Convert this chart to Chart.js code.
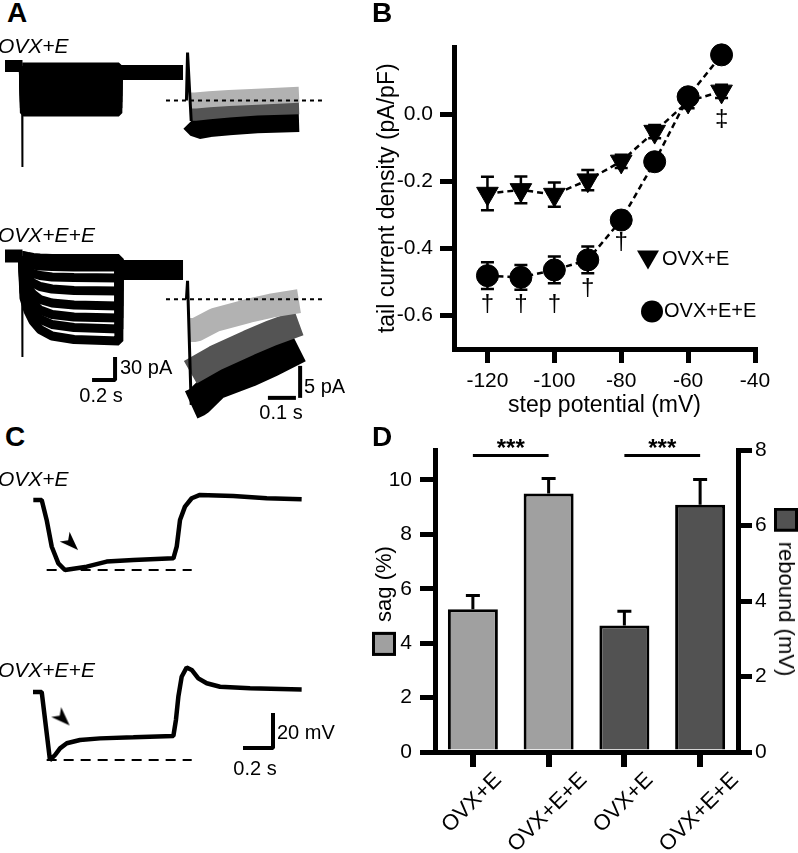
<!DOCTYPE html>
<html>
<head>
<meta charset="utf-8">
<script src="https://cdn.jsdelivr.net/npm/chart.js@4.4.1/dist/chart.umd.min.js"></script>
<style>
  body { margin: 0; width: 798px; height: 853px; position: relative; overflow: hidden; background: #fff;
         font-family: "Liberation Sans", Arial, sans-serif; color: #000; }
  canvas { position: absolute; }
  .t { position: absolute; line-height: 1; white-space: nowrap; }
  .L { font-weight: bold; font-size: 28px; }
  .g { font-style: italic; font-size: 21px; }
  .s { font-size: 20px; }
  .ax { position: absolute; display: flex; align-items: center; gap: 10px; white-space: nowrap;
        font-size: 22px; line-height: 1; transform: translate(-50%, -50%) rotate(-90deg); }
  .ax.r { transform: translate(-50%, -50%) rotate(90deg); }
  .sq { width: 18px; height: 18px; border: 3px solid #000; }
</style>
</head>
<body>
<canvas id="a1" width="190" height="140" style="left:0;top:40px"></canvas>
<canvas id="a2" width="170" height="110" style="left:160px;top:40px"></canvas>
<canvas id="a3" width="190" height="180" style="left:0;top:230px"></canvas>
<canvas id="a4" width="170" height="170" style="left:160px;top:260px"></canvas>
<canvas id="b" width="420" height="400" style="left:360px;top:20px"></canvas>
<canvas id="c1" width="300" height="100" style="left:20px;top:480px"></canvas>
<canvas id="c2" width="300" height="140" style="left:20px;top:660px"></canvas>
<canvas id="d" width="458" height="433" style="left:340px;top:420px"></canvas>

<div class="t L" style="left:7px;top:-1px">A</div>
<div class="t L" style="left:372px;top:-1px">B</div>
<div class="t L" style="left:5px;top:423px">C</div>
<div class="t L" style="left:372px;top:423px">D</div>

<div class="t g" style="left:-2px;top:35px">OVX+E</div>
<div class="t g" style="left:-2px;top:224px">OVX+E+E</div>
<div class="t g" style="left:-2px;top:468px">OVX+E</div>
<div class="t g" style="left:-2px;top:659px">OVX+E+E</div>

<div class="t s" style="left:120px;top:357px">30 pA</div>
<div class="t s" style="left:101px;top:385px;transform:translateX(-50%)">0.2 s</div>
<div class="t s" style="left:304px;top:376px">5 pA</div>
<div class="t s" style="left:281px;top:402px;transform:translateX(-50%)">0.1 s</div>
<div class="t s" style="left:277px;top:722px">20 mV</div>
<div class="t s" style="left:255px;top:758px;transform:translateX(-50%)">0.2 s</div>

<div class="ax" style="left:384px;top:601px"><span class="sq" style="background:#a0a0a0"></span><span>sag (%)</span></div>
<div class="ax r" style="left:786px;top:592px"><span class="sq" style="background:#525252"></span><span>rebound (mV)</span></div>

<script>
const FONT = '"Liberation Sans", Arial, sans-serif';

// ---------- A: current traces, time in s, current in pA ----------
// OVX+E
const holdT = [0, 0.152];
const postT = [0.99, 1.548];
const spikeT = [0.148, 0.150, 0.153];
const spikeI = [0, -131.7, -20];
const stepTopT = [0.150, 0.160, 0.990, 0.992];
const stepTopI = [
  [0, 0, 0, -8.5],
  [0, -7.8, -7.8, -8.5],
  [0, -15.6, -15.6, -8.5],
  [0, -23.5, -23.5, -8.5],
  [0, -31.3, -31.3, -8.5],
  [0, -39.1, -39.1, -8.5],
  [0, -47.0, -47.0, -8.5],
  [0, -54.8, -54.8, -8.5],
  [0, -61.3, -61.3, -8.5]
];
// OVX+E+E
const stepBotT = [0.150, 0.165, 0.20, 0.243, 0.304, 0.409, 0.60, 0.990, 0.992];
const stepBotI = [
  [0, 0, -1.3, -2.6, -3.3, -3.9, -3.9, -3.9, -18.3],
  [0, -7.8, -9.8, -11.7, -13, -13.7, -14.3, -14.3, -18.3],
  [0, -15.6, -19.6, -22.8, -25.4, -27.4, -28, -28.7, -18.3],
  [0, -23.5, -30, -35.2, -39.8, -43, -45, -45.6, -18.3],
  [0, -31.3, -41.7, -49.6, -56.7, -61.3, -63.9, -65.2, -18.3],
  [0, -39.1, -52.2, -61.9, -70.4, -76.3, -79.5, -80.8, -18.3],
  [0, -46.9, -61.3, -73, -82.2, -89.3, -93.2, -95.2, -18.3],
  [0, -54.8, -71.7, -84.8, -95.8, -104.3, -108.9, -110.8, -18.3]
];
const barA_T = [0.757, 0.957, 0.957];
const barA_I = [-161.7, -161.7, -131.7];

// tail currents (s after step, pA)
const tailSpikeT = [-0.002, 0.002, 0.015];
const tailSpikeTop = [0, 7.5, -3.2];
const tailTopLightT = [0.012, 0.03, 0.08, 0.15, 0.25, 0.40];
const tailTopLight = [0, 0, 0.2, 0.4, 0.6, 0.9];
const tailTopDarkT = [0.014, 0.03, 0.08, 0.15, 0.25, 0.40];
const tailTopDark = [-1.9, -1.9, -1.7, -1.4, -1.1, -0.9];
const tailTopBlackT = [0.015, 0.04, 0.08, 0.15, 0.25, 0.40];
const tailTopBlack = [-3.2, -4.3, -4.0, -3.7, -3.4, -3.2];

const tailSpikeBot = [0, 2.9, -16.5];
const tailBotLightT = [0.008, 0.03, 0.10, 0.22, 0.30, 0.40];
const tailBotLight = [-4.8, -4.8, -3.2, -1.8, -1.0, -0.3];
const tailBotDarkT = [0.012, 0.10, 0.22, 0.30, 0.40];
const tailBotDark = [-11.4, -9.2, -6.8, -5.3, -3.7];
const tailBotBlackT = [0.015, 0.04, 0.10, 0.22, 0.30, 0.40];
const tailBotBlack = [-16.5, -16, -13.4, -11.4, -9.8, -7.6];
const zeroT = [-0.075, 0.482];
const barT_T = [0.289, 0.389];
const barT_I = [-15.4, -15.4];
const barT_V = [-15.4, -10.4];

// ---------- B: tail current density vs step potential ----------
const stepMV = [-120, -110, -100, -90, -80, -70, -60, -50];
const tailE = [-0.236, -0.225, -0.239, -0.196, -0.14, -0.051, 0.039, 0.069];
const tailEsem = [0.05, 0.04, 0.036, 0.03, 0.02, 0.02, 0.02, 0.02];
const tailEE = [-0.481, -0.486, -0.464, -0.434, -0.315, -0.141, 0.053, 0.178];
const tailEEsem = [0.04, 0.037, 0.04, 0.04, 0.02, 0.02, 0.02, 0.02];
const xTicksB = [-120, -100, -80, -60, -40];
const yTicksB = [0, -0.2, -0.4, -0.6];
const marksB = [[-120, -0.566, '†'], [-110, -0.566, '†'], [-100, -0.566, '†'],
                [-90, -0.518, '†'], [-80, -0.381, '†'], [-50, -0.015, '‡']];

// ---------- C: voltage traces, time in s, Vm in mV ----------
const vTopT = [0.002, 0.058, 0.091, 0.125, 0.169, 0.213, 0.358, 0.491, 0.669, 0.936, 0.958, 0.98, 1.013, 1.058, 1.113, 1.335, 1.558, 1.791];
const vTop = [-60, -60, -71.4, -86.7, -96.2, -100, -98.1, -95.2, -94.3, -93.3, -86.7, -71.4, -63.8, -59, -57.1, -57.7, -59, -59.6];
const vBotT = [0, 0.058, 0.113, 0.147, 0.18, 0.225, 0.313, 0.447, 0.669, 0.936, 0.953, 0.969, 0.991, 1.024, 1.058, 1.102, 1.158, 1.247, 1.447, 1.791];
const vBot = [-60, -60, -98.9, -96, -92.2, -89.3, -87.4, -86.5, -85.9, -85.1, -75.9, -62.7, -51.3, -46, -47.4, -52.2, -55, -57, -57.9, -58.5];
const sagLineT = [0.091, 1.058];
const sagTop = [-100, -100];
const sagBot = [-98.9, -98.9];
const arrowTop = [0.253, -84.6];
const arrowBot = [0.197, -75.1];
const barC_T = [1.4, 1.6, 1.6];
const barC_V = [-92, -92, -72];

// ---------- D: sag and rebound ----------
const groups = ['OVX+E', 'OVX+E+E', 'OVX+E', 'OVX+E+E'];
const sagMean = [5.25, 9.5, null, null];
const sagSem = [0.5, 0.55, null, null];
const reboundMean = [null, null, 3.35, 6.55];
const reboundSem = [null, null, 0.38, 0.67];
const sagTicks = [0, 2, 4, 6, 8, 10];
const reboundTicks = [0, 2, 4, 6, 8];
const sigPairs = [[0, 1], [2, 3]];
const sigLevel = 10.9;

function line(t, v, color, width, dash) {
  return {
    data: t.map((x, i) => ({ x, y: v[i] })),
    borderColor: color, borderWidth: width, borderDash: dash || [],
    pointRadius: 0, fill: false, clip: false, tension: 0,
    borderJoinStyle: 'bevel', borderCapStyle: 'butt'
  };
}

function traceChart(id, xr, yr, datasets) {
  return new Chart(document.getElementById(id), {
    type: 'line',
    data: { datasets },
    options: {
      animation: false, responsive: false, devicePixelRatio: 1,
      layout: { padding: 0, autoPadding: false },
      events: [],
      plugins: { legend: { display: false }, tooltip: { enabled: false } },
      scales: {
        x: { type: 'linear', display: false, min: xr[0], max: xr[1] },
        y: { type: 'linear', display: false, min: yr[0], max: yr[1] }
      }
    }
  });
}

const LIGHT = '#b2b2b2', DARK = '#545454';

// A top-left
traceChart('a1', [-0.0435, 1.6087], [-148.7, 33.9], [
  line(spikeT, spikeI, '#000', 2),
  ...stepTopI.map(v => line(stepTopT, v, '#000', 7)),
  line(holdT, [0, 0], '#000', 12),
  line(postT, [-8.5, -8.5], '#000', 15)
]);
// A top-right
traceChart('a2', [-0.0964, 0.5107], [-7.73, 9.45], [
  line(zeroT, [0, 0], '#000', 2, [4, 4]),
  line(tailSpikeT, tailSpikeTop, '#000', 3),
  line(tailTopLightT, tailTopLight, LIGHT, 16),
  line(tailTopDarkT, tailTopDark, DARK, 16),
  line(tailTopBlackT, tailTopBlack, '#000', 22)
]);
// A bottom-left
traceChart('a3', [-0.0435, 1.6087], [-200.8, 33.9], [
  line(barA_T, barA_I, '#000', 4),
  line(spikeT, spikeI, '#000', 2),
  ...stepBotI.map((v, i) => line(stepBotT, v, '#000', i === 0 ? 10 : 9)),
  line(holdT, [0, 0], '#000', 13),
  line(postT, [-18.3, -18.3], '#000', 20)
]);
// A bottom-right
traceChart('a4', [-0.0964, 0.5107], [-20.42, 6.14], [
  line(zeroT, [0, 0], '#000', 2, [4, 4]),
  line(barT_T, barT_I, '#000', 4),
  line([0.404, 0.404], barT_V, '#000', 4),
  line(tailSpikeT, tailSpikeBot, '#000', 3),
  line(tailBotLightT, tailBotLight, LIGHT, 24),
  line(tailBotDarkT, tailBotDark, DARK, 26),
  line(tailBotBlackT, tailBotBlack, '#000', 30)
]);

// C arrowhead marker
function arrowHead() {
  const c = document.createElement('canvas');
  c.width = 24; c.height = 24;
  const g = c.getContext('2d');
  g.translate(12, 12); g.rotate(Math.PI / 4);
  g.beginPath(); g.moveTo(10, 0); g.lineTo(-9, -7); g.lineTo(-4, 0); g.lineTo(-9, 7); g.closePath();
  g.fillStyle = '#000'; g.fill();
  return c;
}
const arrowImg = arrowHead();
function arrow(p) {
  return { data: [{ x: p[0], y: p[1] }], showLine: false, pointStyle: arrowImg, pointRadius: 10, clip: false };
}

traceChart('c1', [-0.0867, 1.9133], [-105.714, -48.571], [
  arrow(arrowTop),
  line(vTopT, vTop, '#000', 4.5),
  line(sagLineT, sagTop, '#000', 2, [10, 7])
]);
traceChart('c2', [-0.0867, 1.9133], [-121.714, -41.714], [
  arrow(arrowBot),
  line(vBotT, vBot, '#000', 4.5),
  line(sagLineT, sagBot, '#000', 2, [10, 7]),
  line(barC_T, barC_V, '#000', 4)
]);

// error bars for B and D
const errorBars = {
  id: 'errorBars',
  draw(chart, opts) {
    const ctx = chart.ctx;
    ctx.save();
    ctx.strokeStyle = '#000';
    ctx.lineWidth = opts.width;
    chart.data.datasets.forEach((ds, di) => {
      if (!ds.sem) return;
      const meta = chart.getDatasetMeta(di);
      const ys = meta.yScale;
      meta.data.forEach((el, i) => {
        const raw = ds.data[i];
        const v = raw === null ? null : (typeof raw === 'object' ? raw.y : raw);
        const e = ds.sem[i];
        if (v === null || e === null || e === undefined) return;
        const x = el.x;
        const top = ys.getPixelForValue(v + e);
        const bot = ys.getPixelForValue(opts.upOnly ? v : v - e);
        ctx.beginPath();
        ctx.moveTo(x, bot); ctx.lineTo(x, top);
        ctx.moveTo(x - opts.cap / 2, top); ctx.lineTo(x + opts.cap / 2, top);
        if (!opts.upOnly) { ctx.moveTo(x - opts.cap / 2, bot); ctx.lineTo(x + opts.cap / 2, bot); }
        ctx.stroke();
      });
    });
    ctx.restore();
  },
  beforeDatasetsDraw(chart, args, opts) { if (opts.behind) this.draw(chart, opts); },
  afterDatasetsDraw(chart, args, opts) { if (!opts.behind) this.draw(chart, opts); }
};

// B: daggers and inset legend
const bExtras = {
  id: 'bExtras',
  afterDraw(chart) {
    const { ctx, scales: { x, y }, chartArea } = chart;
    ctx.save();
    ctx.fillStyle = '#000';
    ctx.font = `24px ${FONT}`;
    ctx.textAlign = 'center';
    ctx.textBaseline = 'middle';
    marksB.forEach(m => ctx.fillText(m[2], x.getPixelForValue(m[0]), y.getPixelForValue(m[1])));

    const lx = chartArea.left + 194, ly1 = chartArea.top + 212, ly2 = chartArea.top + 264;
    ctx.beginPath();
    ctx.moveTo(lx - 11, ly1 - 9); ctx.lineTo(lx + 11, ly1 - 9); ctx.lineTo(lx, ly1 + 10); ctx.closePath();
    ctx.fill();
    ctx.beginPath(); ctx.arc(lx + 4, ly2, 11, 0, Math.PI * 2); ctx.fill();
    ctx.font = `20px ${FONT}`;
    ctx.textAlign = 'left';
    ctx.fillText('OVX+E', lx + 14, ly1);
    ctx.fillText('OVX+E+E', lx + 16, ly2);
    ctx.restore();
  }
};

const tickFont = { family: FONT, size: 21 };
const axisGrid = { drawOnChartArea: false, color: '#000', lineWidth: 5 };
const axisBorder = { display: true, color: '#000', width: 5 };

new Chart(document.getElementById('b'), {
  type: 'line',
  data: {
    labels: stepMV,
    datasets: [
      { label: 'OVX+E', data: stepMV.map((v, i) => ({ x: v, y: tailE[i] })), sem: tailEsem,
        borderColor: '#000', borderWidth: 2.5, borderDash: [6, 4], pointStyle: 'triangle', rotation: 180,
        pointRadius: 12.5, pointBackgroundColor: '#000', pointBorderColor: '#000', pointBorderWidth: 1, clip: false },
      { label: 'OVX+E+E', data: stepMV.map((v, i) => ({ x: v, y: tailEE[i] })), sem: tailEEsem,
        borderColor: '#000', borderWidth: 2.5, borderDash: [6, 4], pointStyle: 'circle',
        pointRadius: 11, pointBackgroundColor: '#000', pointBorderColor: '#000', pointBorderWidth: 1, clip: false }
    ]
  },
  options: {
    animation: false, responsive: false, devicePixelRatio: 1, events: [],
    layout: { padding: { top: 27.5, right: 25, left: 0, bottom: 0 }, autoPadding: false },
    plugins: { legend: { display: false }, tooltip: { enabled: false },
               errorBars: { behind: true, cap: 13, width: 2.5, upOnly: false } },
    scales: {
      x: {
        type: 'linear', min: -130, max: -40,
        afterBuildTicks: s => { s.ticks = xTicksB.map(v => ({ value: v })); },
        afterFit: s => { s.height = 71; },
        grid: { ...axisGrid, tickLength: 14 }, border: axisBorder,
        ticks: { font: tickFont, color: '#000', padding: 6, maxRotation: 0 },
        title: { display: true, text: 'step potential (mV)', color: '#000',
                 font: { family: FONT, size: 23 }, padding: { top: 0, bottom: 1 } }
      },
      y: {
        type: 'linear', min: -0.7, max: 0.2,
        afterBuildTicks: s => { s.ticks = yTicksB.map(v => ({ value: v })); },
        afterFit: s => { s.width = 94; },
        grid: { ...axisGrid, tickLength: 14 }, border: axisBorder,
        ticks: { font: tickFont, color: '#000', padding: 7, callback: v => v.toFixed(1) },
        title: { display: true, text: 'tail current density (pA/pF)', color: '#000',
                 font: { family: FONT, size: 23 }, padding: { top: 14, bottom: 0 } }
      }
    }
  },
  plugins: [errorBars, bExtras]
});

// D: rotated group labels and significance bars
const dExtras = {
  id: 'dExtras',
  afterDraw(chart) {
    const { ctx, scales: { x, y } } = chart;
    ctx.save();
    ctx.fillStyle = '#000';
    ctx.strokeStyle = '#000';
    ctx.font = `22px ${FONT}`;
    ctx.textAlign = 'center';
    ctx.textBaseline = 'middle';
    groups.forEach((lab, i) => {
      const px = x.getPixelForValue(i);
      const w = ctx.measureText(lab).width;
      const cy = x.top + 19 + (w + 16) * 0.3536;
      ctx.save();
      ctx.translate(px - 1, cy);
      ctx.rotate(-Math.PI / 4);
      ctx.fillText(lab, 0, 0);
      ctx.restore();
    });
    const ly = y.getPixelForValue(sigLevel);
    ctx.lineWidth = 3;
    ctx.font = `bold 24px ${FONT}`;
    ctx.textBaseline = 'alphabetic';
    sigPairs.forEach(([a, b]) => {
      const xa = x.getPixelForValue(a), xb = x.getPixelForValue(b);
      ctx.beginPath(); ctx.moveTo(xa, ly); ctx.lineTo(xb, ly); ctx.stroke();
      ctx.fillText('***', (xa + xb) / 2, ly + 1);
    });
    ctx.restore();
  }
};

new Chart(document.getElementById('d'), {
  type: 'bar',
  data: {
    labels: groups,
    datasets: [
      { label: 'sag', data: sagMean, sem: sagSem, yAxisID: 'y', backgroundColor: '#a0a0a0',
        borderColor: '#000', borderWidth: 3, grouped: false, barPercentage: 0.66, categoryPercentage: 1 },
      { label: 'rebound', data: reboundMean, sem: reboundSem, yAxisID: 'y1', backgroundColor: '#525252',
        borderColor: '#000', borderWidth: 3, grouped: false, barPercentage: 0.66, categoryPercentage: 1 }
    ]
  },
  options: {
    animation: false, responsive: false, devicePixelRatio: 1, events: [],
    layout: { padding: { top: 30, right: 0, left: 0, bottom: 0 }, autoPadding: false },
    plugins: { legend: { display: false }, tooltip: { enabled: false },
               errorBars: { behind: false, cap: 14, width: 3, upOnly: true } },
    scales: {
      x: {
        type: 'category', offset: true,
        afterFit: s => { s.height = 101; },
        grid: { ...axisGrid, offset: false, tickLength: 15, lineWidth: 6 }, border: axisBorder,
        ticks: { display: false }
      },
      y: {
        position: 'left', min: 0, max: 11.1,
        afterBuildTicks: s => { s.ticks = sagTicks.map(v => ({ value: v })); },
        afterFit: s => { s.width = 95; },
        grid: { ...axisGrid, tickLength: 15 }, border: axisBorder,
        ticks: { font: tickFont, color: '#000', padding: 8 }
      },
      y1: {
        position: 'right', min: 0, max: 8,
        afterBuildTicks: s => { s.ticks = reboundTicks.map(v => ({ value: v })); },
        afterFit: s => { s.width = 60; },
        grid: { ...axisGrid, tickLength: 14 }, border: axisBorder,
        ticks: { font: tickFont, color: '#000', padding: 3 }
      }
    }
  },
  plugins: [errorBars, dExtras]
});
</script>
</body>
</html>
